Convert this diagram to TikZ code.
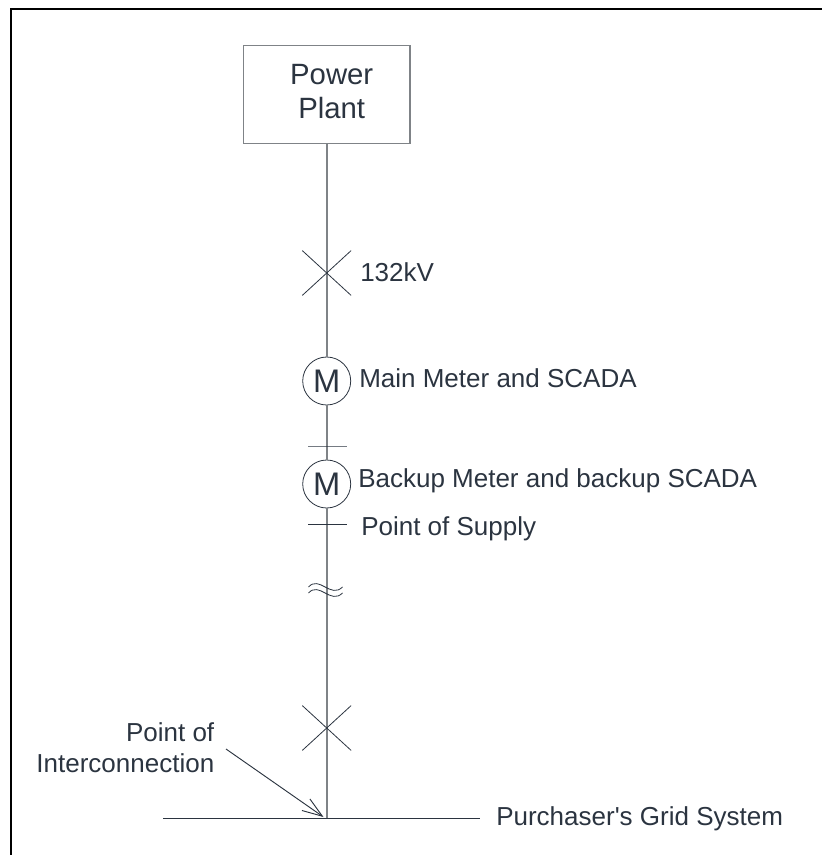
\documentclass[tikz,border=0pt]{standalone}
\usepackage{fontspec}
\setmainfont{Liberation Sans}
\usetikzlibrary{arrows.meta,shapes.misc}
\definecolor{inkdark}{HTML}{2B3440}
\definecolor{trunkgrey}{HTML}{7F8387}
\begin{document}
\begin{tikzpicture}
		[x=0.75pt,y=-0.75pt,
		plantbox/.style={rectangle,draw=trunkgrey,line width=1pt,minimum width=124.9pt,minimum height=73.5pt,inner sep=0pt,align=center,font=\fontsize{22pt}{25.7pt}\selectfont,text=inkdark},
		meternode/.style={circle,draw=inkdark,line width=0.6pt,fill=white,minimum size=36pt,inner sep=0pt,font=\fontsize{24.5pt}{28pt}\selectfont,text=inkdark},
		breaker/.style={cross out,draw=inkdark,line width=0.6pt,minimum width=36pt,minimum height=33pt,inner sep=0pt},
		tickline/.style={rectangle,draw=inkdark,line width=0.6pt,minimum width=29pt,minimum height=0pt,inner sep=0pt},
		caption/.style={anchor=base west,inner sep=0pt,font=\fontsize{19.5pt}{23.25pt}\selectfont,text=inkdark,align=right},
		trunk/.style={draw=trunkgrey,line width=1.25pt},
		thinline/.style={draw=inkdark,line width=0.7pt},]
		\useasboundingbox (0,0) rectangle (822,855);
		% frame runs off the page on two sides
		\coordinate (frameA) at (11,855);
		\coordinate (frameB) at (11,9);
		\coordinate (frameC) at (822,9);
		\draw[line width=1.5pt] (frameA) -- (frameB) -- (frameC);
		\node[plantbox,name=plant] at (326.7,94.5) {\hspace*{7.5pt}Power\\\hspace*{7.5pt}Plant\rule[-4.5pt]{0pt}{0pt}};
		\node[meternode,name=meterA] at (326.7,381) {M};
		\node[meternode,name=meterB] at (326.7,484) {M};
		\coordinate (junction) at (326.7,818);
		\draw[trunk] (plant.south) -- (meterA.north);
		\draw[trunk] (meterA.south) -- (meterB.north);
		\draw[trunk] (meterB.south) -- (junction);
		\node[breaker,name=breakerA] at (326.7,273) {};
		\node[breaker,name=breakerB] at (326.7,728) {};
		\node[tickline,name=tickA] at (327.5,446) {};
		\node[tickline,name=tickB] at (327.5,524.5) {};
		\foreach \i/\y in {A/587,B/593}
		{
			\coordinate (wave\i) at (308.5,\y);
			\draw[thinline,line width=0.6pt] (wave\i) .. controls +(11,-12) and +(-12,12) .. ++(34,0);
		}
		\coordinate (busA) at (163,818);
		\coordinate (busB) at (480,818);
		\draw[thinline] (busA) -- (busB);
		\node[caption,name=kvlabel] at (360,281.7) {132kV};
		\node[caption,name=mainlabel] at (359,387.3) {Main Meter and SCADA};
		\node[caption,name=backuplabel] at (358,487.3) {Backup Meter and backup SCADA};
		\node[caption,name=supplylabel] at (361,535) {Point of Supply};
		\node[caption,name=gridlabel] at (496,825) {Purchaser\textquotesingle s Grid System};
		\node[caption,anchor=east,name=poilabel] at (214.5,748) {Point of\\Interconnection};
		\coordinate (arrowstart) at (226,749);
		\coordinate (arrowend) at (323.5,817);
		\draw[thinline,-{Straight Barb[length=15pt,width=10.5pt]}] (arrowstart) -- (arrowend);
	\end{tikzpicture}
\end{document}
